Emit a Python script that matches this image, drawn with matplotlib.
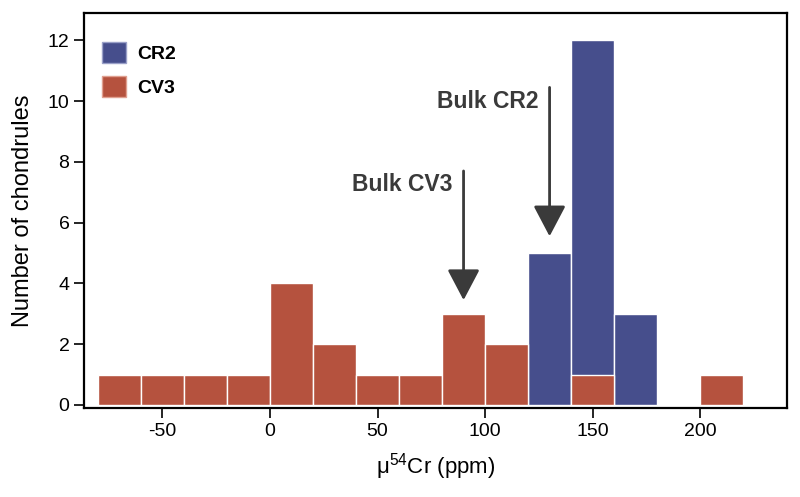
import matplotlib
matplotlib.use("Agg")
import matplotlib.pyplot as plt
from matplotlib.patches import Patch

plt.rcParams['font.family'] = ['Liberation Sans', 'DejaVu Sans']
plt.rcParams['axes.unicode_minus'] = False
plt.rcParams['mathtext.default'] = 'regular'

# Histogram data (bin left edges, width 20 ppm)
cv3_edges = [-80, -60, -40, -20, 0, 20, 40, 60, 80, 100, 140, 200]
cv3_counts = [1, 1, 1, 1, 4, 2, 1, 1, 3, 2, 1, 1]
cr2_edges = [120, 140, 160]
cr2_counts = [5, 12, 3]
bin_width = 20

# Bulk values marked with arrows
bulk_labels = ["Bulk CV3", "Bulk CR2"]
bulk_x = [90, 130]
arrow_top = [7.7, 10.45]
arrow_tip = [3.45, 5.55]
label_y = [7.25, 10.0]

cr2_color = "#464e8c"
cv3_color = "#b5523e"
arrow_color = "#3a3a3a"

fig = plt.figure(figsize=(8, 4.97), dpi=100)
ax = fig.add_axes([0.105, 0.179, 0.879, 0.795])

ax.bar(cr2_edges, cr2_counts, width=bin_width, align='edge', color=cr2_color,
       edgecolor='white', linewidth=1.0, zorder=2)
ax.bar(cv3_edges, cv3_counts, width=bin_width, align='edge', color=cv3_color,
       edgecolor='white', linewidth=1.0, zorder=3)

for lab, x, y0, y1, ly in zip(bulk_labels, bulk_x, arrow_top, arrow_tip, label_y):
    ax.annotate('', xy=(x, y1), xytext=(x, y0),
                arrowprops=dict(arrowstyle='-|>,head_length=0.95,head_width=0.5',
                                mutation_scale=20, color=arrow_color, lw=2.0,
                                shrinkA=0, shrinkB=0), zorder=4)
    ax.text(x - 5, ly, lab, ha='right', va='center', fontsize=16.5,
            fontweight='bold', color=arrow_color)

ax.set_xlim(-86.5, 240.5)
ax.set_ylim(-0.1, 12.9)
ax.set_xticks([-50, 0, 50, 100, 150, 200])
ax.set_yticks([0, 2, 4, 6, 8, 10, 12])
ax.tick_params(axis='both', labelsize=14, length=7, width=1.2, direction='out')
for sp in ax.spines.values():
    sp.set_linewidth(1.6)

ax.set_xlabel("\u03bc$^{54}$Cr (ppm)", fontsize=16, labelpad=8)
ax.set_ylabel("Number of chondrules", fontsize=17, labelpad=10)

handles = [Patch(facecolor=cr2_color, edgecolor='#9aa0c8'),
           Patch(facecolor=cv3_color, edgecolor='#e0a090')]
leg = ax.legend(handles, ["CR2", "CV3"], loc='upper left', frameon=False,
                bbox_to_anchor=(0.0, 0.97),
                handlelength=1.25, handleheight=1.3, handletextpad=0.6,
                labelspacing=0.65, borderaxespad=0.5,
                prop={'weight': 'bold', 'size': 14})

fig.savefig("out.png", dpi=100)
